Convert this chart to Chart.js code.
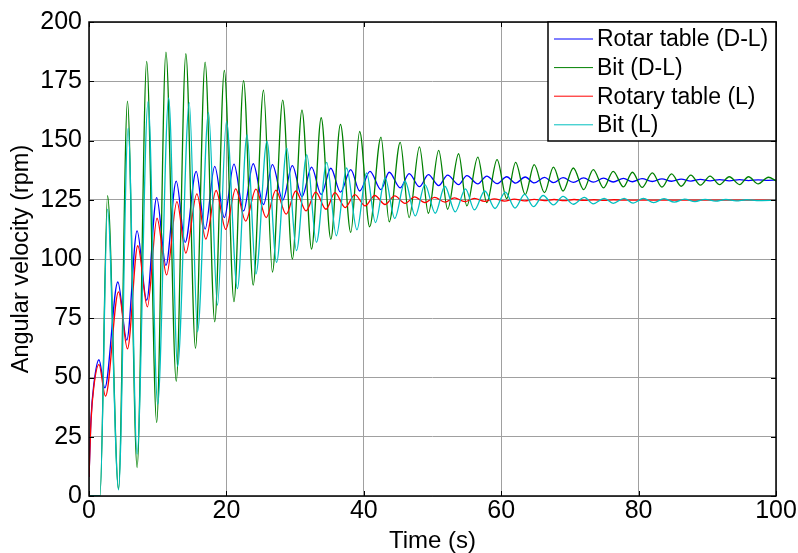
<!DOCTYPE html>
<html>
<head>
<meta charset="utf-8">
<script src="https://cdn.jsdelivr.net/npm/chart.js@4"></script>
<style>
html,body{margin:0;padding:0;background:#fff;}
#wrap{width:798px;height:553px;}
</style>
</head>
<body>
<div id="wrap"><canvas id="cv" width="798" height="553"></canvas></div>
<script>
// series labels
const seriesNames=['Rotar table (D-L)','Bit (D-L)','Rotary table (L)','Bit (L)'];

// Rotar table (D-L) - extrema (time s, rpm)
const tBlue=[0,0.3,0.7,1.45,2.3,4.2,5.5,7.0,8.4,9.85,11.2,12.7,14.0,15.6,16.9,18.3,19.7,21.1,22.5,23.9,25.4,26.7,28.2,29.6,31.0,32.4,33.8,35.2,36.6,38.1,39.4,40.9,42.5,43.7,45.3,46.6,48.1,49.4,50.9,52.2,53.8,55.0,56.6,57.9,59.4,60.8,62.1,63.5,64.8,66.3,67.6,69.0,70.5,72.0,73.4,74.9,76.3,77.8,79.1,80.5,82.0,83.4,84.8,86.2,87.6,89.0,90.4,91.8,93.2,94.7,96.0,97.4,98.9,100];
const vBlue=[8,33,47,57.5,45.6,90.3,65.8,111.9,82.6,125.9,97.3,132.9,107,137,112.6,139.1,117.5,140,120.3,140.2,123,139.8,124.9,139.4,126.3,138.8,127.2,138.3,128.2,137.7,128.7,137,129.3,136.6,130,136,130.5,135.6,131,135.4,131.4,135.2,131.7,135,131.8,134.7,132,134.6,132.1,134.4,132.2,134.3,132.3,134.2,132.4,134.1,132.5,134,132.6,133.9,132.7,133.8,132.8,133.7,132.9,133.6,133,133.5,133,133.5,133.1,133.4,133.2,133.3];

// Bit (D-L)
const tGreen=[0,1.6,2.7,4.3,5.6,7.0,8.4,9.85,11.2,12.7,14.1,15.5,16.9,18.3,19.7,21.1,22.5,23.9,25.4,26.7,28.2,29.6,31.0,32.4,33.8,35.2,36.6,38.1,39.4,40.85,42.5,43.7,45.3,46.6,48.1,49.4,50.9,52.2,53.8,55.0,56.6,57.9,59.4,60.8,62.1,63.5,64.8,66.3,67.6,69.0,70.5,72.0,73.4,74.9,76.3,77.8,79.1,80.5,82.0,83.4,84.8,86.2,87.6,89.0,90.4,91.8,93.2,94.7,96.0,97.4,98.9,100];
const vGreen=[0,0,126.7,3,166.6,12,183.4,31,187.3,48.4,186.6,62.3,183.1,73.5,179.6,82,175.3,89,171.2,94.5,167,100,162.8,104.2,159.6,108.4,156.8,111.2,153.8,113.6,151.4,115.7,149.2,117.5,147.3,119.3,145.8,121,144.4,122.4,143,123.8,141.9,125.5,140.8,127.2,139.8,128,138.8,128.7,138.4,129.3,137.7,130,137,130.4,136.6,130.2,136.3,130.3,135.9,130.7,135.4,131.2,135,131.4,134.7,131.4,134.7,131.7,134.5,133];

// Rotary table (L)
const tRed=[0,0.3,0.7,1.45,2.4,4.3,5.6,7.1,8.5,9.9,11.3,12.8,14.1,15.7,17.0,18.5,19.9,21.35,22.8,24.3,25.8,27.2,28.7,30.1,31.6,33.0,34.5,35.8,37.3,38.7,40.2,41.6,43.1,44.5,46.0,47.4,48.9,50.3,51.8,53.2,54.7,56.1,57.6,59.0,60.5,61.9,63.4,64.8,66.3,67.7,69.2,70.6,72.1,73.5,75.0,76.4,77.9,80,100];
const vRed=[8,32,46,55.4,42.1,86.1,62.1,105.6,79.8,117.2,93.3,124.2,102.5,127.5,108.4,128.9,112.5,129.6,116,129.5,117.5,129.1,118.9,128.7,120.3,128.2,121,128,121.7,127.2,122.4,126.8,123,126.6,123.5,126.2,123.8,126,124,125.8,124.2,125.6,124.3,125.4,124.4,125.3,124.5,125.2,124.6,125.1,124.6,125.1,124.7,125,124.7,125,124.8,124.8,124.8];

// Bit (L)
const tTeal=[0,1.6,2.7,4.3,5.7,7.0,8.6,10.0,11.6,12.9,14.6,15.8,17.4,18.7,20.0,21.6,23.0,24.3,25.9,27.3,28.8,30.2,31.7,33.1,34.6,36.0,37.5,39.0,40.4,41.7,43.1,44.5,46.0,47.5,48.9,50.4,51.8,53.3,54.8,56.1,57.6,59.1,60.6,62.0,63.4,64.7,66.1,67.6,69.0,70.5,72.1,73.4,75.0,76.3,77.9,79.2,80.7,82.2,83.7,85.2,86.7,88.2,89.7,91.2,92.7,94.2,95.7,97.2,100];
const vTeal=[0,0,121,2.6,155.2,17.7,166.4,38.6,168,54.7,166,69.3,161.8,80.5,158,87.5,152.4,93.7,149.6,98.6,146.8,103.5,144,107,140.8,109.8,138.4,112.3,136.3,115.4,134.2,117.1,132.8,118.2,131.4,119.3,130.7,119.9,129.6,120.7,128.7,121.3,128.2,121.5,127.3,122.1,126.8,122.8,126.4,123.1,126,123.3,125.6,123.5,125.6,123.6,125.6,123.8,125.5,124,125.3,124.2,125.2,124.4,125.1,124.5,125,124.6,124.8];

// axis ticks
const xTicks=[0,20,40,60,80,100];
const yTicks=[0,25,50,75,100,125,150,175,200];

const colors=['#0000ff','#008000','#ff0000','#00bfbf'];
const FONT='"Liberation Sans", Arial, sans-serif';

function pts(t,v){return t.map((x,i)=>({x:x,y:v[i]}));}

const series=[[tBlue,vBlue],[tGreen,vGreen],[tRed,vRed],[tTeal,vTeal]];
const datasets=series.map((s,i)=>({
  label:seriesNames[i],
  data:pts(s[0],s[1]),
  borderColor:colors[i],
  borderWidth:1.3,
  pointRadius:0,
  fill:false,
  cubicInterpolationMode:'monotone',
  order:4-i
}));

// frame, inward ticks, legend box
const matlabBits={
  id:'matlabBits',
  afterDatasetsDraw(chart){
    const c=chart.ctx, a=chart.chartArea, xs=chart.scales.x, ys=chart.scales.y;
    c.save();
    c.strokeStyle='#000'; c.lineWidth=1.5;
    c.strokeRect(a.left,a.top,a.right-a.left,a.bottom-a.top);
    c.lineWidth=1;
    xTicks.forEach(v=>{const p=Math.round(xs.getPixelForValue(v))+0.5;
      c.beginPath();c.moveTo(p,a.bottom);c.lineTo(p,a.bottom-5);c.moveTo(p,a.top);c.lineTo(p,a.top+5);c.stroke();});
    yTicks.forEach(v=>{const p=Math.round(ys.getPixelForValue(v))+0.5;
      c.beginPath();c.moveTo(a.left,p);c.lineTo(a.left+5,p);c.moveTo(a.right,p);c.lineTo(a.right-5,p);c.stroke();});
    // legend
    const bx=548, by=a.top, bw=a.right-548, bh=119;
    c.fillStyle='#fff'; c.fillRect(bx,by,bw,bh);
    c.lineWidth=1.5; c.strokeRect(bx,by,bw,bh);
    c.font='23px '+FONT; c.textBaseline='middle';
    chart.data.datasets.forEach((d,i)=>{
      const y=by+17+i*28.6;
      c.strokeStyle=d.borderColor; c.lineWidth=1;
      c.beginPath(); c.moveTo(554,y); c.lineTo(593,y); c.stroke();
      c.fillStyle='#000'; c.fillText(d.label,597,y+1);
    });
    c.restore();
  }
};

new Chart(document.getElementById('cv'),{
  type:'line',
  data:{datasets:datasets},
  options:{
    responsive:false,
    animation:false,
    devicePixelRatio:1,
    layout:{padding:{top:18,right:22,bottom:0,left:0}},
    plugins:{legend:{display:false},tooltip:{enabled:false}},
    scales:{
      x:{
        type:'linear',min:0,max:100,
        afterFit(s){s.height=57;},
        afterBuildTicks(s){s.ticks=xTicks.map(v=>({value:v}));},
        grid:{color:'#a0a0a0',lineWidth:1,drawTicks:false},
        border:{display:false},
        ticks:{color:'#000',padding:0,font:{family:FONT,size:25},maxRotation:0},
        title:{display:true,text:'Time (s)',color:'#000',font:{family:FONT,size:24,lineHeight:1},padding:{top:0,bottom:0}}
      },
      y:{
        type:'linear',min:0,max:200,
        afterFit(s){s.width=89;},
        afterBuildTicks(s){s.ticks=yTicks.map(v=>({value:v}));},
        grid:{color:'#a0a0a0',lineWidth:1,drawTicks:false},
        border:{display:false},
        ticks:{color:'#000',padding:7,font:{family:FONT,size:25}},
        title:{display:true,text:'Angular velocity (rpm)',color:'#000',font:{family:FONT,size:23.5,lineHeight:1},padding:{top:10,bottom:0}}
      }
    }
  },
  plugins:[matlabBits]
});
</script>
</body>
</html>
